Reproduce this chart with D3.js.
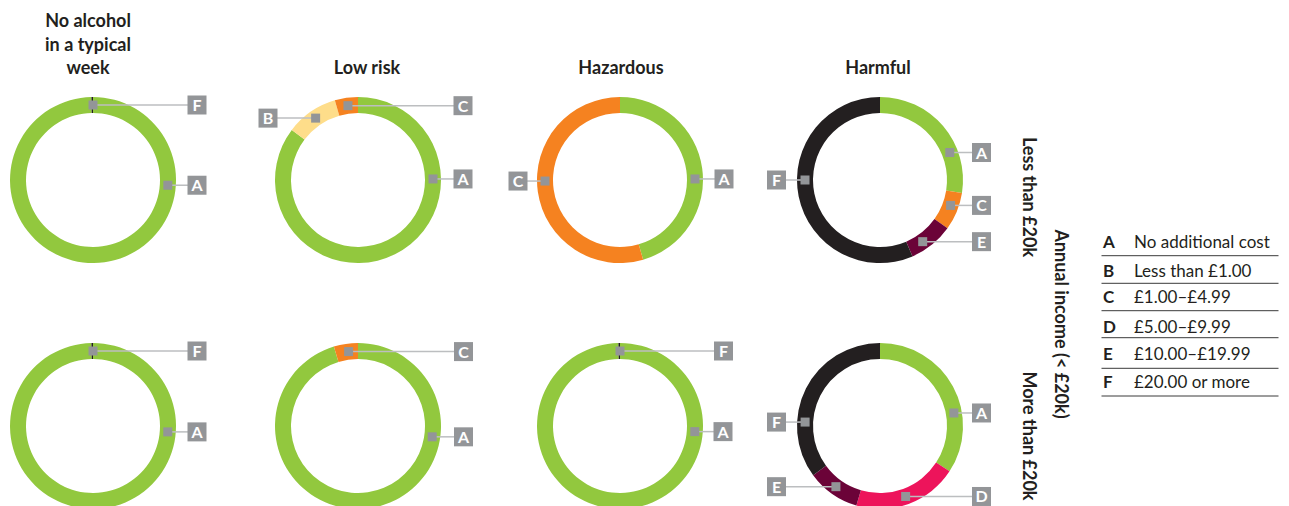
<!DOCTYPE html>
<html>
<head>
<meta charset="utf-8">
<script src="https://cdn.jsdelivr.net/npm/d3@7"></script>
<style>
  html, body { margin: 0; padding: 0; background: #fff; }
  svg { display: block; font-family: Lato, "Open Sans", sans-serif; }
</style>
</head>
<body>
<svg id="chart" width="1289" height="506"></svg>
<script>
// ---------- data ----------
const categories = ["A", "B", "C", "D", "E", "F"];
const categoryLabels = ["No additional cost", "Less than £1.00", "£1.00–£4.99", "£5.00–£9.99", "£10.00–£19.99", "£20.00 or more"];
const drinkingGroups = ["No alcohol in a typical week", "Low risk", "Hazardous", "Harmful"];
const incomeGroups = ["Less than £20k", "More than £20k"];
const incomeTitle = "Annual income (< £20k)";
// share (%) of each category A..F per drinking group
const lessThan20k = [
  [99.7, 0, 0, 0, 0, 0.3],
  [85.3, 10.2, 4.5, 0, 0, 0],
  [45.5, 0, 54.5, 0, 0, 0],
  [27.5, 0, 7.4, 0, 8.7, 56.4]
];
const moreThan20k = [
  [99.7, 0, 0, 0, 0, 0.3],
  [95.3, 0, 4.7, 0, 0, 0],
  [99.7, 0, 0, 0, 0, 0.3],
  [34.2, 0, 0, 20.4, 10.3, 35.1]
];
const seriesByIncome = [lessThan20k, moreThan20k];

// ---------- layout / style ----------
const colX = [93, 358, 620, 880];
const rowY = [180, 426];
const titleX = [88, 367, 621, 878];
const rOuter = 83, rInner = 67, rMid = 75;
const colors = {A: "#92c83e", B: "#fedd8a", C: "#f58220", D: "#ed145b", E: "#6b0338", F: "#231f20"};
const grey = "#939598";
// callout anchors: angle along ring (deg clockwise from top), box offset from centre
const callouts = [
  [
    [{k: "F", a: 0, dx: 104}, {k: "A", a: 94, dx: 104}],
    [{k: "C", a: 352.3, dx: 105}, {k: "B", a: 325.6, dx: -90}, {k: "A", a: 89.2, dx: 105}],
    [{k: "C", a: 269.2, dx: -102}, {k: "A", a: 89.2, dx: 104}],
    [{k: "A", a: 68.5, dx: 101.5}, {k: "C", a: 109.8, dx: 101.5}, {k: "E", a: 145.3, dx: 101.5}, {k: "F", a: 270, dx: -103.5}]
  ],
  [
    [{k: "F", a: 0, dx: 104}, {k: "A", a: 94.5, dx: 104}],
    [{k: "C", a: 352.8, dx: 105.5}, {k: "A", a: 98.3, dx: 105.5}],
    [{k: "F", a: 0, dx: 103.5}, {k: "A", a: 94.3, dx: 103}],
    [{k: "A", a: 80, dx: 101.5}, {k: "F", a: 273, dx: -103.5}, {k: "E", a: 216, dx: -103.5}, {k: "D", a: 160, dx: 101.5}]
  ]
];

const svg = d3.select("#chart");

const pie = d3.pie().sort(null).value(d => d.v).startAngle(0).endAngle(2 * Math.PI);
const arc = d3.arc().innerRadius(rInner).outerRadius(rOuter);
const angleScale = d3.scaleLinear().domain([0, 360]).range([0, 2 * Math.PI]);

// titles
drinkingGroups.forEach((g, i) => {
  const lines = i === 0 ? ["No alcohol", "in a typical", "week"] : [g];
  const t = svg.append("text")
    .attr("x", titleX[i]).attr("text-anchor", "middle")
    .attr("font-weight", 700).attr("font-size", 18).attr("fill", "#231f20");
  lines.forEach((ln, j) => {
    t.append("tspan").attr("x", titleX[i])
      .attr("y", 74 - (lines.length - 1 - j) * 23.5).text(ln);
  });
});

// donuts
seriesByIncome.forEach((rows, ri) => {
  rows.forEach((vals, ci) => {
    const cx = colX[ci], cy = rowY[ri];
    const g = svg.append("g").attr("transform", `translate(${cx},${cy})`);
    const data = categories.map((k, i) => ({k, v: vals[i]})).filter(d => d.v > 0);
    g.selectAll("path").data(pie(data)).join("path")
      .attr("d", arc).attr("fill", d => colors[d.data.k]);

    callouts[ri][ci].forEach(c => {
      const ang = angleScale(c.a);
      const mx = rMid * Math.sin(ang), my = -rMid * Math.cos(ang);
      const bx = c.dx;
      g.append("line")
        .attr("x1", mx).attr("y1", my).attr("x2", bx).attr("y2", my)
        .attr("stroke", "#bcbec0").attr("stroke-width", 1.5);
      g.append("rect")
        .attr("x", mx - 4.5).attr("y", my - 4.5).attr("width", 9).attr("height", 9)
        .attr("fill", grey);
      g.append("rect")
        .attr("x", bx - 9.5).attr("y", my - 9.5).attr("width", 19).attr("height", 19)
        .attr("fill", grey);
      g.append("text")
        .attr("x", bx).attr("y", my + 6).attr("text-anchor", "middle")
        .attr("font-weight", 700).attr("font-size", 16).attr("fill", "#fff")
        .text(c.k);
    });
  });
});

// vertical row labels
const rowLabelY = [197, 436];
incomeGroups.forEach((lab, i) => {
  svg.append("text")
    .attr("transform", `translate(1023,${rowLabelY[i]}) rotate(90)`)
    .attr("text-anchor", "middle")
    .attr("font-weight", 700).attr("font-size", 18).attr("fill", "#231f20")
    .text(lab);
});
svg.append("text")
  .attr("transform", `translate(1055,324) rotate(90)`)
  .attr("text-anchor", "middle")
  .attr("font-weight", 700).attr("font-size", 18).attr("fill", "#231f20")
  .text(incomeTitle);

// legend
const legendBase = [248.3, 276.7, 303, 332.7, 360, 388.3];
const legendLine = [255.7, 283.3, 310.7, 337.7, 368.3, 396];
const lg = svg.append("g");
categories.forEach((k, i) => {
  lg.append("text").attr("x", 1103).attr("y", legendBase[i])
    .attr("font-weight", 700).attr("font-size", 17).attr("fill", "#231f20").text(k);
  lg.append("text").attr("x", 1134).attr("y", legendBase[i])
    .attr("font-size", 17).attr("fill", "#231f20").text(categoryLabels[i]);
  lg.append("line").attr("x1", 1101.5).attr("x2", 1278.5)
    .attr("y1", legendLine[i]).attr("y2", legendLine[i])
    .attr("stroke", "#3a3a3a").attr("stroke-width", 1);
});
</script>
</body>
</html>
